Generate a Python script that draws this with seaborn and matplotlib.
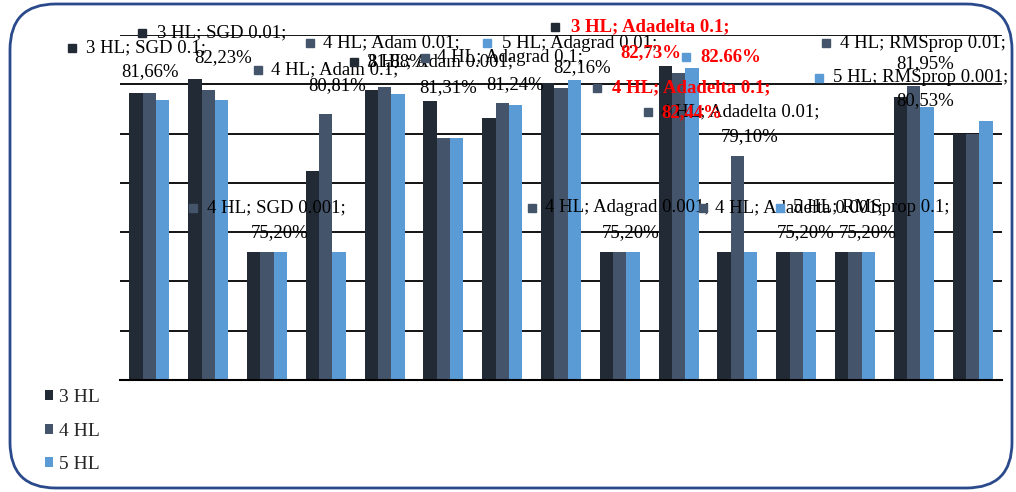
import numpy as np
import pandas as pd
import seaborn as sns
import matplotlib.pyplot as plt
import matplotlib.transforms as mtransforms
from matplotlib.patches import FancyBboxPatch, Patch

configs = ['SGD 0.1', 'SGD 0.01', 'SGD 0.001', 'Adam 0.1', 'Adam 0.01', 'Adam 0.001',
           'Adagrad 0.1', 'Adagrad 0.01', 'Adagrad 0.001', 'Adadelta 0.1', 'Adadelta 0.01',
           'Adadelta 0.001', 'RMSprop 0.1', 'RMSprop 0.01', 'RMSprop 0.001']
hl_names = ['3 HL', '4 HL', '5 HL']
acc_3hl = [81.66, 82.23, 75.20, 78.48, 81.76, 81.31, 80.63, 82.05, 75.20, 82.73, 75.20, 75.20, 75.20, 81.48, 80.00]
acc_4hl = [81.66, 81.76, 75.20, 80.81, 81.88, 79.82, 81.24, 81.85, 75.20, 82.44, 79.10, 75.20, 75.20, 81.95, 80.00]
acc_5hl = [81.35, 81.35, 75.20, 75.20, 81.60, 79.82, 81.16, 82.16, 75.20, 82.66, 75.20, 75.20, 75.20, 81.08, 80.53]
colors = ['#222a35', '#44546a', '#5b9bd5']

df = pd.DataFrame({
    'config': configs * 3,
    'HL': [h for h in hl_names for _ in configs],
    'acc': acc_3hl + acc_4hl + acc_5hl,
})

# data labels as they sit in the original (pixel positions, Excel-style)
# (series, marker_x, y1, text1_left, text1, x2, y2, text2, red)
labels = [
    (0, 72, 48, 86, '3 HL; SGD 0.1;', 150, 72, '81,66%', False),
    (0, 142, 33, 157, '3 HL; SGD 0.01;', 223, 58, '82,23%', False),
    (1, 258, 70, 271, '4 HL; Adam 0.1;', 337, 86, '80,81%', False),
    (1, 310, 43, 323, '4 HL; Adam 0.01;', 396, 62, '81,88%', False),
    (0, 354, 62, 367, '3 HL; Adam 0.001;', 448, 88, '81,31%', False),
    (1, 425, 58, 437, '4 HL; Adagrad 0.1;', 515, 85, '81,24%', False),
    (2, 487, 43, 502, '5 HL; Adagrad 0.01;', 582, 68, '82,16%', False),
    (1, 648, 112, 661, '4 HL; Adadelta 0.01;', 750, 137, '79,10%', False),
    (1, 193, 208, 207, '4 HL; SGD 0.001;', 280, 233, '75,20%', False),
    (1, 532, 208, 545, '4 HL; Adagrad 0.001;', 631, 233, '75,20%', False),
    (1, 703, 208, 715, '4 HL; Adadelta 0.001;', 806, 233, '75,20%', False),
    (2, 780, 208, 793, '5 HL; RMSprop 0.1;', 868, 233, '75,20%', False),
    (1, 826, 43, 840, '4 HL; RMSprop 0.01;', 925, 64, '81,95%', False),
    (2, 819, 78, 833, '5 HL; RMSprop 0.001;', 925, 101, '80,53%', False),
    (0, 555, 27, 571, '3 HL; Adadelta 0.1;', 651, 53, '82,73%', True),
    (2, 686, 57, 700, '82.66%', None, None, None, True),
    (1, 597, 88, 612, '4 HL; Adadelta 0.1;', 692, 113, '82,44%', True),
]

sns.set_style('white')
plt.rcParams['font.family'] = ['Liberation Serif', 'DejaVu Serif']

W, H = 1016, 492
fig = plt.figure(figsize=(W / 100, H / 100), dpi=100)
ax = fig.add_axes([120 / W, 1 - 380 / H, (1002 - 120) / W, (380 - 35) / H])

sns.barplot(data=df, x='config', y='acc', hue='HL', palette=colors, width=0.68,
            saturation=1, linewidth=0, ax=ax, legend=False, zorder=2)

ax.set_ylim(70, 84)
ax.set_xlim(-0.5, len(configs) - 0.5)
ax.set_yticks(np.arange(70, 85, 2))
ax.set_axisbelow(True)
ax.grid(axis='y', color='black', linewidth=1.3)
ax.grid(axis='x', visible=False)
ax.set_xlabel('')
ax.set_ylabel('')
ax.set_xticklabels([])
ax.set_yticklabels([])
ax.tick_params(length=0)
for side in ['left', 'right', 'top']:
    ax.spines[side].set_visible(False)
ax.spines['bottom'].set_color('black')
ax.spines['bottom'].set_linewidth(1.5)

# pixel coordinates, origin top-left
px = mtransforms.Affine2D().scale(1 / W, -1 / H).translate(0, 1) + fig.transFigure

for s, mx, y1, tx, t1, x2, y2, t2, red in labels:
    col = '#ff0000' if red else 'black'
    wt = 'bold' if red else 'normal'
    ax.plot([mx], [y1], marker='s', ms=6, color=colors[s], transform=px,
            clip_on=False, zorder=5, linestyle='none')
    ax.text(tx, y1, t1, transform=px, ha='left', va='center', fontsize=13.5,
            color=col, fontweight=wt, clip_on=False, zorder=5)
    if t2:
        ax.text(x2, y2, t2, transform=px, ha='center', va='center', fontsize=13.5,
                color=col, fontweight=wt, clip_on=False, zorder=5)

handles = [Patch(facecolor=c, edgecolor='none') for c in colors]
fig.legend(handles, hl_names, loc='upper left', bbox_to_anchor=(45 / W, 1 - 389 / H),
           frameon=False, fontsize=14, handlelength=0.42, handleheight=0.42,
           handletextpad=0.3, labelspacing=0.85, borderpad=0, borderaxespad=0)

frame = FancyBboxPatch((10 / W, 4 / H), (1012 - 10) / W, (488 - 4) / H,
                       boxstyle='round,pad=0,rounding_size=0.045',
                       transform=fig.transFigure, facecolor='none',
                       edgecolor='#2b4a8b', linewidth=2, mutation_aspect=W / H)
fig.patches.append(frame)

fig.savefig('out.png', dpi=100)
